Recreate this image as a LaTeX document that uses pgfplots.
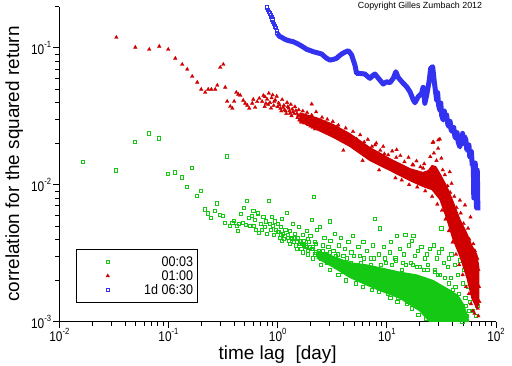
\documentclass[border=0pt]{standalone}
\usepackage{fontspec}
\setmainfont{Liberation Sans}
\usepackage{graphicx}
\usepackage{pgfplots}
\pgfplotsset{compat=1.18}
\definecolor{gcol}{RGB}{20,200,20}
\definecolor{rcol}{RGB}{208,0,0}
\definecolor{bcol}{RGB}{50,50,240}
\newcommand{\tl}[1]{\scalebox{0.85}[1]{10\raisebox{7bp}{\fontsize{9}{9}\selectfont#1}}}
\begin{document}
\begin{tikzpicture}
\useasboundingbox (-59.3bp,-44.3bp) rectangle (452.7bp,321.7bp);
\begin{axis}[
  scale only axis, width=436.7bp, height=315.2bp,
  xmode=log, ymode=log,
  xmin=0.01, xmax=100, ymin=0.001, ymax=0.2,
  axis x line*=bottom, axis y line*=left,
  axis line style={-, line width=0.9bp, black},
  tick align=outside,
  major tick length=6bp, minor tick length=4bp,
  every tick/.style={black, line width=0.9bp},
  xtick={0.01,0.1,1,10,100},
  xticklabels={\tl{-2},\tl{-1},\tl{0},\tl{1},\tl{2}},
  minor xtick={0.02,0.03,0.04,0.05,0.06,0.07,0.08,0.09,0.2,0.3,0.4,0.5,0.6,0.7,0.8,0.9,2,3,4,5,6,7,8,9,20,30,40,50,60,70,80,90},
  ytick={0.001,0.01,0.1},
  yticklabels={\tl{-3},\tl{-2},\tl{-1}},
  minor ytick={0.002,0.003,0.004,0.005,0.006,0.007,0.008,0.009,0.02,0.03,0.04,0.05,0.06,0.07,0.08,0.09,0.2},
  tick label style={font=\fontsize{14}{14}\selectfont},
  xticklabel style={anchor=north, inner sep=0pt, text depth=0pt, yshift=0bp},
  yticklabel style={anchor=east, inner sep=0pt, xshift=-2bp},
  xlabel={time lag\ \ [day]},
  ylabel={correlation for the squared return},
  every axis x label/.style={at={(axis description cs:0.5,-0.0760)}, anchor=north, inner sep=0pt, font=\fontsize{19}{19}\selectfont},
  every axis y label/.style={at={(axis description cs:-0.1240,0.5)}, rotate=90, anchor=north, inner sep=0pt, font=\fontsize{19}{19}\selectfont},
  clip mode=individual,
  legend cell align=right,
  legend image code/.code={\path (-28bp,0bp) (35bp,0bp); \draw[#1] plot coordinates {(0bp,0bp)};},
  legend style={at={(axis description cs:0.0382,0.2306)}, anchor=north west, draw=black, line width=0.8bp,
    inner xsep=3bp, inner ysep=6bp, row sep=1bp, font=\fontsize{14}{14}\selectfont,
    nodes={inner sep=1bp, text height=10bp, text depth=1bp}},
]
% green core
\addplot[fill=gcol, draw=gcol, line width=1bp, mark=none, forget plot] coordinates {
(2.3,0.0033) (3.23,0.0030) (4.59,0.0027) (6.53,0.0026) (9.27,0.00245) (13.2,0.0023) (18.7,0.0022) (26.6,0.0020) (37.8,0.0017) (45,0.00155) (50.1,0.00135) (55,0.0011) (57,0.00095)
(45,0.00095) (26,0.00095) (20,0.0012) (13.2,0.00148) (9.27,0.00165) (6.53,0.00185) (4.59,0.0021) (3.23,0.0025) (2.3,0.0029) (2.3,0.0033)};
% green points
\addplot[only marks, mark=square, mark size=1.6bp, mark options={draw=gcol, line width=0.9bp}, gcol] table {
x y
0.0166 0.0146
0.0333 0.0127
0.0497 0.0204
0.0667 0.0237
0.0824 0.0218
0.0995 0.0120
0.1155 0.0123
0.1337 0.0113
0.165 0.0132
0.345 0.0161
0.1486 0.00957
0.1835 0.00823
0.1996 0.00895
0.217 0.0066
0.231 0.00618
0.247 0.00569
0.268 0.0064
0.28 0.00731
0.298 0.00598
0.318 0.00588
0.331 0.00523
0.368 0.00497
0.385 0.00523
0.4 0.00541
0.427 0.00497
0.436 0.00457
0.445 0.00514
0.464 0.00608
0.484 0.00523
0.494 0.00673
0.516 0.00506
0.527 0.00757
0.55 0.00569
0.562 0.00497
0.585 0.00588
0.611 0.00497
0.637 0.00465
0.664 0.00618
0.679 0.00442
0.600 0.0064
0.620 0.0055
0.660 0.0062
0.700 0.0052
0.715 0.0047
0.740 0.0058
0.760 0.0049
0.780 0.0054
0.800 0.0044
0.832 0.0076
0.850 0.0052
0.870 0.0047
0.890 0.0058
0.910 0.0050
0.930 0.0043
0.950 0.0054
0.970 0.0047
1.000 0.0052
1.020 0.0045
1.050 0.0041
1.070 0.0049
1.100 0.0056
1.120 0.0044
1.150 0.0040
1.180 0.0047
1.210 0.0062
1.240 0.0043
1.270 0.0039
1.300 0.0046
1.330 0.0041
1.370 0.0052
1.400 0.0038
1.440 0.0044
1.480 0.0036
1.520 0.0041
1.560 0.0049
1.600 0.0037
1.650 0.0034
1.700 0.0043
1.750 0.0039
1.800 0.0035
1.850 0.0046
1.900 0.0033
1.950 0.0038
2.000 0.0042
2.050 0.0055
2.100 0.0035
2.160 0.0081
2.200 0.0031
2.250 0.0037
2.300 0.0047
2.380 0.0033
2.450 0.0049
2.520 0.0029
2.600 0.0036
2.680 0.0041
2.750 0.0031
2.830 0.0027
2.920 0.0035
3.000 0.0054
3.050 0.0039
3.150 0.0028
3.250 0.0033
3.350 0.0044
3.450 0.0025
3.550 0.0031
3.650 0.0036
3.800 0.0041
3.900 0.0027
4.000 0.0023
4.150 0.0034
4.300 0.0029
4.450 0.0038
4.600 0.0022
4.750 0.0032
4.900 0.0042
5.100 0.0026
5.300 0.0021
5.500 0.0035
5.700 0.0030
5.900 0.0020
6.100 0.0038
6.300 0.0024
6.600 0.0033
6.900 0.0019
7.200 0.0029
7.500 0.0036
7.800 0.0056
8.100 0.0022
8.400 0.0031
8.700 0.0048
9.000 0.0018
9.400 0.0035
9.800 0.0027
10.20 0.0016
10.60 0.0032
11.00 0.0038
11.50 0.0021
12.00 0.0029
12.30 0.0042
12.80 0.0015
13.30 0.0034
13.80 0.0024
14.30 0.0031
14.80 0.0043
15.40 0.0014
16.00 0.0036
16.60 0.0027
17.10 0.0039
17.50 0.0042
18.00 0.0030
18.60 0.0013
19.30 0.0033
20.00 0.0025
20.80 0.0035
21.60 0.0012
22.40 0.0029
23.20 0.0031
24.00 0.0026
25.00 0.0034
26.00 0.0011
26.90 0.0036
27.80 0.0024
28.80 0.0029
29.80 0.0032
30.80 0.0022
31.60 0.0048
32.20 0.0034
33.50 0.0027
34.80 0.0011
36.00 0.0025
37.30 0.0029
38.50 0.0021
39.10 0.0031
40.50 0.0017
42.00 0.0026
43.50 0.0013
45.00 0.0022
46.50 0.0028
48.00 0.0012
49.50 0.0019
51.00 0.0024
52.50 0.0015
54.00 0.0011
56.00 0.0018
58.00 0.0014
60.00 0.0021
62.00 0.0012
64.00 0.0016
66.00 0.0011
67.50 0.0013
1.45 0.0041
1.6 0.0039
1.75 0.0036
1.9 0.0040
2.05 0.0034
2.2 0.0038
2.4 0.0030
2.6 0.0033
2.8 0.0030
3.0 0.0032
3.2 0.0029
3.4 0.0030
3.7 0.0026
4.0 0.0030
4.3 0.0024
4.7 0.0027
5.0 0.0030
5.4 0.0023
5.8 0.0027
6.2 0.0029
6.7 0.0021
7.1 0.0026
7.6 0.0029
8.2 0.0019
8.8 0.0026
9.6 0.0029
10.4 0.0019
11.2 0.0026
12.1 0.0028
13.0 0.0017
14.0 0.0027
15.0 0.0026
16.2 0.0016
17.4 0.0026
18.8 0.0025
20.2 0.0014
21.8 0.0024
23.6 0.0024
25.4 0.0013
27.4 0.0023
29.4 0.0022
31.8 0.0012
34.2 0.0021
36.8 0.0019
39.6 0.0011
42.6 0.0018
45.8 0.0016
49.2 0.0010
52.8 0.0013
56.5 0.0012
1.0 0.0045
1.08 0.0043
1.16 0.0042
1.25 0.0041
1.35 0.0040
1.52 0.0038
1.68 0.0037
1.82 0.0036
1.98 0.0035
2.12 0.0034
2.26 0.0032
1.1 0.0039
1.3 0.0037
1.5 0.0034
1.7 0.0032
1.9 0.0031
2.1 0.0029
2.5 0.0026
3.0 0.0024
3.6 0.0022
4.2 0.0020
5.2 0.0019
6.0 0.0018
7.3 0.0017
8.4 0.00165
10.8 0.0015
12.5 0.0014
15.2 0.00135
17.0 0.00125
19.5 0.00112
22.8 0.00105
2.7 0.0031
3.3 0.0027
4.4 0.0025
5.6 0.0024
7.0 0.0023
8.9 0.0022
11.6 0.0020
14.6 0.0019
};
\addlegendentry{\scalebox{0.9}[1]{00:03}}
% red core
\addplot[fill=rcol, draw=rcol, line width=1bp, mark=none, forget plot] coordinates {
(1.6,0.0335) (2.29,0.0308) (3.21,0.0276) (4.59,0.0236) (7.0,0.0187) (10.67,0.0155) (16.3,0.0131) (21.4,0.0123) (24,0.0127) (25.9,0.0138) (28,0.0136) (30.6,0.0121) (35.5,0.0097) (40.3,0.0076) (46.7,0.0056) (54.2,0.0044) (60.1,0.0036) (66.8,0.0031) (69.7,0.0025)
(69.7,0.00135) (66.8,0.00125) (60.1,0.00148) (54.2,0.00208) (46.7,0.0030) (40.3,0.0040) (35.5,0.0056) (30.6,0.0078) (25.9,0.0092) (21.4,0.0097) (16.3,0.0107) (10.67,0.0127) (7.0,0.0150) (4.59,0.0190) (3.21,0.0222) (2.29,0.0252) (1.6,0.0290) (1.6,0.0335)};
% red points
\addplot[only marks, mark=triangle*, mark size=2.1bp, mark options={draw=rcol, fill=rcol, line width=0.3bp}, rcol] table {
x y
0.0333 0.119
0.0497 0.1007
0.0667 0.0973
0.0824 0.1024
0.0995 0.0973
0.1155 0.0837
0.1337 0.0756
0.1486 0.0696
0.165 0.0618
0.1835 0.0559
0.1996 0.0497
0.217 0.0472
0.231 0.0497
0.247 0.0497
0.268 0.0497
0.28 0.0532
0.298 0.0719
0.318 0.0756
0.331 0.0514
0.345 0.0406
0.368 0.0373
0.385 0.0361
0.4 0.0406
0.418 0.0472
0.436 0.0457
0.455 0.0449
0.484 0.0413
0.505 0.0393
0.527 0.038
0.55 0.0361
0.585 0.0393
0.598 0.042
0.622 0.0367
0.65 0.0404
0.679 0.0427
0.765 0.0439
0.90 0.0452
1.0 0.0371
1.30 0.0332
1.66 0.0305
2.05 0.0388
3.5 0.0265
26.3 0.0203
29.6 0.0212
26.7 0.0205
30.6 0.0215
29.5 0.0184
31.6 0.0156
37.7 0.0124
39.2 0.0102
46.7 0.0077
52.0 0.0071
58.4 0.0058
9.27 0.019
12.3 0.018
7.8 0.0195
17.5 0.0139
21.5 0.0132
0.72 0.0405
0.74 0.0448
0.78 0.0392
0.80 0.0421
0.83 0.0465
0.85 0.0398
0.88 0.0430
0.92 0.0378
0.95 0.0415
0.98 0.0442
1.02 0.0395
1.06 0.0360
1.10 0.0418
1.14 0.0380
1.18 0.0345
1.22 0.0398
1.26 0.0362
1.32 0.0385
1.38 0.0340
1.44 0.0371
1.50 0.0330
1.56 0.0352
1.62 0.0322
1.70 0.0345
1.78 0.0310
1.86 0.0336
1.95 0.0300
2.05 0.0322
2.15 0.0292
2.25 0.0340
2.4 0.0285
2.55 0.0310
2.7 0.0270
2.85 0.0300
3.0 0.0262
3.2 0.0289
3.4 0.0250
3.6 0.0272
3.9 0.0240
4.2 0.0259
4.5 0.0228
4.9 0.0244
5.3 0.0215
5.7 0.0231
6.2 0.0205
6.7 0.0214
7.3 0.0190
8.0 0.0201
8.7 0.0178
9.5 0.0168
10.3 0.0165
11.2 0.0176
12.2 0.0158
13.3 0.0163
14.5 0.0147
15.8 0.0158
17.2 0.0140
18.7 0.0149
20.3 0.0135
22.0 0.0142
23.8 0.0122
25.0 0.0160
27.0 0.0170
28.5 0.0150
32.5 0.0128
34.0 0.0118
36.0 0.0098
38.0 0.0088
41.5 0.0082
43.5 0.0068
47.5 0.0062
50.5 0.0052
55.5 0.0048
57.0 0.0040
62.0 0.0037
64.0 0.0033
67.5 0.0029
69.0 0.0024
70.0 0.0018
70.5 0.0014
69.0 0.0011
68.0 0.00125
4.0 0.0178
6.0 0.0150
8.5 0.0128
12.0 0.0112
13.7 0.0108
16.0 0.0100
19.0 0.0096
22.5 0.0090
26.0 0.0082
29.0 0.0072
32.0 0.0065
34.5 0.0056
37.0 0.0046
40.0 0.0038
43.0 0.0031
46.0 0.0026
49.5 0.0022
53.0 0.0018
56.5 0.0016
59.0 0.00135
61.5 0.0012
63.5 0.00115
0.76 0.0372
0.82 0.0385
0.87 0.0362
0.93 0.0405
1.04 0.0382
1.08 0.0345
1.12 0.0366
1.16 0.0352
1.20 0.0330
1.24 0.0372
1.28 0.0345
1.34 0.0318
1.36 0.0356
1.42 0.0330
1.47 0.0348
1.52 0.0308
1.54 0.0320
1.58 0.0296
1.64 0.0286
1.68 0.0312
1.74 0.0282
1.82 0.0290
1.90 0.0274
2.00 0.0268
2.10 0.0262
2.20 0.0255
};
\addlegendentry{\scalebox{0.9}[1]{01:00}}
% blue thick line
\addplot[bcol, line width=5bp, line join=round, mark=none, forget plot] table {
x y
0.991 0.1274
1.04 0.121
1.089 0.1191
1.15 0.1160
1.208 0.1138
1.30 0.1120
1.39 0.1106
1.50 0.1075
1.60 0.1046
1.72 0.1010
1.845 0.0973
1.98 0.0955
2.12 0.0935
2.30 0.0920
2.53 0.0900
2.70 0.0860
2.81 0.0837
3.01 0.0813
3.20 0.0820
3.47 0.0837
3.65 0.0870
3.86 0.0900
4.10 0.0925
4.43 0.0951
4.60 0.0920
4.76 0.0885
5.10 0.0748
5.29 0.0650
5.80 0.0648
6.30 0.0643
6.70 0.0615
7.00 0.0598
7.40 0.0625
7.78 0.0643
8.20 0.0610
8.65 0.0581
9.27 0.0543
9.96 0.0565
10.67 0.0555
11.45 0.0598
12.10 0.0668
12.70 0.0608
13.70 0.0565
15.20 0.0519
16.30 0.0477
17.50 0.0415
18.10 0.0397
19.40 0.0439
20.80 0.0465
21.50 0.0514
22.30 0.0393
23.20 0.0452
24.50 0.0581
25.20 0.0708
26.30 0.0727
27.20 0.0565
28.6 0.0415
29.2 0.0470
29.8 0.0380
30.6 0.0351
31.2 0.0395
31.8 0.0320
32.8 0.0297
33.6 0.0345
34.4 0.0300
35.3 0.0323
36.2 0.0275
37.2 0.0265
38.0 0.0290
38.8 0.0250
40.1 0.0244
41.0 0.0262
42.0 0.0225
43.0 0.0218
44.0 0.0240
45.0 0.0205
46.7 0.0189
47.5 0.0215
48.5 0.0205
49.4 0.0237
50.5 0.0200
51.5 0.0225
53.0 0.0212
54.0 0.0180
55.6 0.0179
56.5 0.0195
57.5 0.0160
58.5 0.0160
59.5 0.0175
60.5 0.0140
61.8 0.0139
62.3 0.0110
62.6 0.0080
63.0 0.0108
63.6 0.0126
64.5 0.0144
65.3 0.0118
65.8 0.0085
66.3 0.0068
66.8 0.0095
67.3 0.0128
67.8 0.0100
68.2 0.0065
};
% blue start marks
\addplot[only marks, mark=square, mark size=1.6bp, mark options={draw=bcol, line width=0.9bp}, bcol] table {
x y
0.804 0.197
0.82 0.190
0.835 0.183
0.85 0.178
0.863 0.173
0.878 0.167
0.895 0.161
0.912 0.155
0.93 0.149
0.947 0.143
0.964 0.1386
0.978 0.133
0.991 0.1274
};
\addlegendentry{\scalebox{0.9}[1]{1d 06:30}}
\node[anchor=north, inner sep=0pt, font=\fontsize{8.9}{8.9}\selectfont] at (axis description cs:0.826,1.014) {Copyright Gilles Zumbach 2012};
\end{axis}
\end{tikzpicture}
\end{document}
